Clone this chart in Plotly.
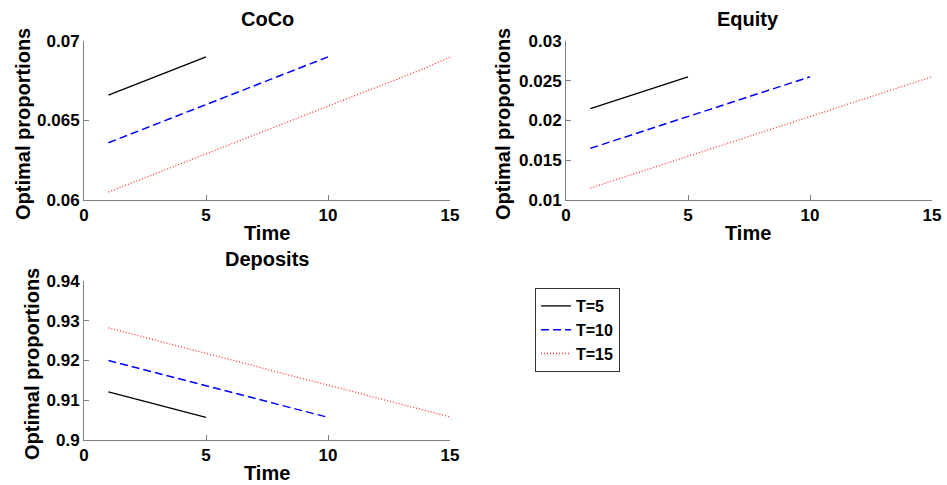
import plotly.graph_objects as go

time5 = [1, 2, 3, 4, 5]
time10 = [1, 2, 3, 4, 5, 6, 7, 8, 9, 10]
time15 = [1, 2, 3, 4, 5, 6, 7, 8, 9, 10, 11, 12, 13, 14, 15]

coco_T5 = [0.0666, 0.0672, 0.0678, 0.0684, 0.0690]
coco_T10 = [0.0636, 0.0642, 0.0648, 0.0654, 0.0660, 0.0666, 0.0672, 0.0678, 0.0684, 0.0690]
coco_T15 = [0.0605, 0.0611, 0.0617, 0.0623, 0.0629, 0.0635, 0.0641, 0.0647,
            0.0653, 0.0659, 0.0665, 0.0671, 0.0677, 0.0683, 0.0690]

equity_T5 = [0.0215, 0.0225, 0.0235, 0.0245, 0.0255]
equity_T10 = [0.0165, 0.0175, 0.0185, 0.0195, 0.0205, 0.0215, 0.0225, 0.0235, 0.0245, 0.0255]
equity_T15 = [0.0115, 0.0125, 0.0135, 0.0145, 0.0155, 0.0165, 0.0175, 0.0185,
              0.0195, 0.0205, 0.0215, 0.0225, 0.0235, 0.0245, 0.0255]

deposits_T5 = [0.9121, 0.9105, 0.9089, 0.9073, 0.9057]
deposits_T10 = [0.9200, 0.9184, 0.9168, 0.9152, 0.9136, 0.9120, 0.9104, 0.9088, 0.9072, 0.9057]
deposits_T15 = [0.9282, 0.9266, 0.9250, 0.9234, 0.9218, 0.9202, 0.9186, 0.9170,
                0.9154, 0.9138, 0.9122, 0.9106, 0.9090, 0.9074, 0.9058]

series_names = ["T=5", "T=10", "T=15"]
panel_titles = ["CoCo", "Equity", "Deposits"]
x_ticks = [0, 5, 10, 15]
coco_ticks = [0.06, 0.065, 0.07]
coco_ticktext = ["0.06", "0.065", "0.07"]
equity_ticks = [0.01, 0.015, 0.02, 0.025, 0.03]
equity_ticktext = ["0.01", "0.015", "0.02", "0.025", "0.03"]
deposits_ticks = [0.9, 0.91, 0.92, 0.93, 0.94]
deposits_ticktext = ["0.9", "0.91", "0.92", "0.93", "0.94"]

colors = ["#000000", "#0000ff", "#ff3333"]
dashes = ["solid", "8px,4px", "1px,2px"]
widths = [1.3, 1.5, 1.3]
times = [time5, time10, time15]

W, H = 947, 485
FONT = "Liberation Sans"

fig = go.Figure()

panels = [
    ("x", "y", [coco_T5, coco_T10, coco_T15]),
    ("x2", "y2", [equity_T5, equity_T10, equity_T15]),
    ("x3", "y3", [deposits_T5, deposits_T10, deposits_T15]),
]

for pi, (xa, ya, data) in enumerate(panels):
    for si in range(3):
        fig.add_trace(go.Scatter(
            x=times[si], y=data[si], mode="lines", xaxis=xa, yaxis=ya,
            name=series_names[si], showlegend=(pi == 0),
            line=dict(color=colors[si], dash=dashes[si], width=widths[si]),
        ))

def px_x(p):
    return p / W

def px_y(p):
    return (H - p) / H

dom_left = [px_x(84), px_x(450)]
dom_right = [px_x(566), px_x(932)]
dom_top = [px_y(200), px_y(41)]
dom_bot = [px_y(440), px_y(281)]

axis_common = dict(
    showline=True, linecolor="#808080", linewidth=1, mirror=False,
    ticks="inside", ticklen=5, tickcolor="#808080",
    showgrid=False, zeroline=False, automargin=False,
    tickfont=dict(family=FONT, size=17, color="black", weight="bold"),
)

fig.update_layout(
    width=W, height=H,
    margin=dict(l=0, r=0, t=0, b=0, pad=0, autoexpand=False),
    paper_bgcolor="white", plot_bgcolor="white",
    font=dict(family=FONT, color="black"),
    xaxis=dict(domain=dom_left, anchor="y", range=[0, 15], tickvals=x_ticks, **axis_common),
    yaxis=dict(domain=dom_top, anchor="x", range=[0.06, 0.07], tickvals=coco_ticks,
               ticktext=coco_ticktext, **axis_common),
    xaxis2=dict(domain=dom_right, anchor="y2", range=[0, 15], tickvals=x_ticks, **axis_common),
    yaxis2=dict(domain=dom_top, anchor="x2", range=[0.01, 0.03], tickvals=equity_ticks,
                ticktext=equity_ticktext, **axis_common),
    xaxis3=dict(domain=dom_left, anchor="y3", range=[0, 15], tickvals=x_ticks, **axis_common),
    yaxis3=dict(domain=dom_bot, anchor="x3", range=[0.9, 0.94], tickvals=deposits_ticks,
                ticktext=deposits_ticktext, **axis_common),
    legend=dict(
        x=px_x(535), y=px_y(288), xanchor="left", yanchor="top",
        bordercolor="#333333", borderwidth=1, bgcolor="white",
        font=dict(family=FONT, size=16, color="black", weight="bold"),
        tracegroupgap=0, itemwidth=30,
    ),
    showlegend=True,
)

annotations = []
title_font = dict(family=FONT, size=20, color="black", weight="bold")
label_font = dict(family=FONT, size=20, color="black", weight="bold")
# panel titles
for (cx, cy), t in zip([(267, 19), (748, 19), (267, 259)], panel_titles):
    annotations.append(dict(text=t, x=px_x(cx), y=px_y(cy), xref="paper", yref="paper",
                            xanchor="center", yanchor="middle",
                            showarrow=False, font=title_font))
# x labels
for cx, cy in [(267, 233), (748, 233), (267, 473)]:
    annotations.append(dict(text="Time", x=px_x(cx), y=px_y(cy), xref="paper", yref="paper",
                            xanchor="center", yanchor="middle",
                            showarrow=False, font=label_font))
# y labels
for cx, cy in [(23, 124), (503, 124), (32, 364)]:
    annotations.append(dict(text="Optimal proportions", x=px_x(cx), y=px_y(cy), xref="paper",
                            yref="paper", xanchor="center", yanchor="middle",
                            showarrow=False, textangle=-90, font=label_font))

fig.update_layout(annotations=annotations)

fig.write_html(
    "out.html",
    config={"displayModeBar": False},
    post_script="document.body.style.margin='0';document.body.style.overflow='hidden';",
)
